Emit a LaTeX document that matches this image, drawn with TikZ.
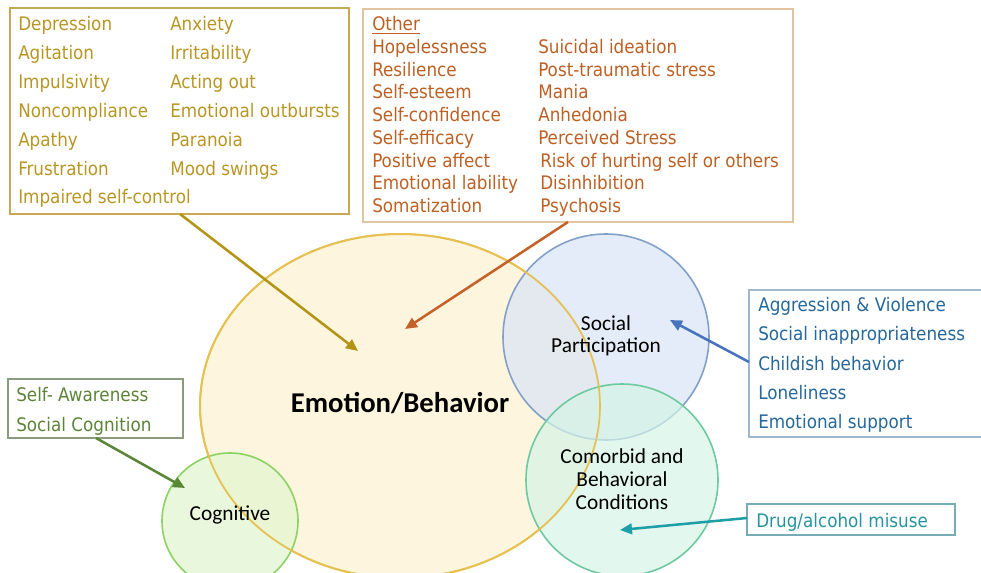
\documentclass[tikz,border=0pt]{standalone}
\usepackage{fontspec}
\setmainfont{DejaVu Sans Condensed}
\newfontfamily\calfont{Carlito}
\usetikzlibrary{arrows.meta}
\definecolor{olivetxt}{RGB}{184,150,36}
\definecolor{oliveline}{RGB}{196,170,80}
\definecolor{olivearrow}{RGB}{180,148,20}
\definecolor{orangetxt}{RGB}{188,96,36}
\definecolor{orangeline}{RGB}{226,196,160}
\definecolor{orangearrow}{RGB}{196,98,40}
\definecolor{bluetxt}{RGB}{38,104,154}
\definecolor{blueline}{RGB}{160,184,206}
\definecolor{bluearrow}{RGB}{70,114,190}
\definecolor{greentxt}{RGB}{92,132,56}
\definecolor{greenline}{RGB}{140,154,128}
\definecolor{greenarrow}{RGB}{90,134,56}
\definecolor{tealtxt}{RGB}{38,148,160}
\definecolor{tealline}{RGB}{120,172,180}
\definecolor{tealarrow}{RGB}{30,158,166}
\definecolor{emofill}{RGB}{254,245,222}
\definecolor{emoline}{RGB}{230,192,80}
\definecolor{socfill}{RGB}{218,230,246}
\definecolor{socline}{RGB}{130,160,200}
\definecolor{comfill}{RGB}{214,244,230}
\definecolor{comline}{RGB}{110,200,160}
\definecolor{cogfill}{RGB}{226,246,208}
\definecolor{cogline}{RGB}{140,210,100}
\tikzset{
  lst/.style={anchor=base west, inner sep=0pt, font=\fontsize{14}{16}\selectfont},
  boxline/.style={line width=0.9pt},
  arr/.style={line width=1.9pt, -{Triangle[length=9pt,width=8pt]}},
  lbl/.style={inner sep=0pt, font=\calfont\fontsize{16}{18}\selectfont, text=black},
}
\begin{document}
\begin{tikzpicture}[x=0.75pt,y=-0.75pt]
\useasboundingbox (0,0) rectangle (981,573);
\clip (0,0) rectangle (981,573);
% circles
\draw[fill=emofill, draw=emoline, line width=1.5pt] (400,406) ellipse [x radius=200, y radius=172];
\draw[fill=socfill, fill opacity=0.75, draw=socline, line width=1.2pt] (606,337) circle [radius=103];
\draw[fill=comfill, fill opacity=0.7, draw=comline, line width=1.2pt] (622,480) circle [radius=96];
\draw[fill=cogfill, fill opacity=0.75, draw=cogline, line width=1.2pt] (230,521) circle [radius=68];
\draw[emoline, line width=1.2pt] (400,406) ellipse [x radius=200, y radius=172];
% circle labels
\node[lbl, font=\calfont\bfseries\fontsize{21.5}{24}\selectfont, anchor=base] (emo) at (400,412) {Emotion/Behavior};
\node[lbl, anchor=base] (soc1) at (606,330) {Social};
\node[lbl, anchor=base] (soc2) at (606,353) {Participation};
\node[lbl, anchor=base] (com1) at (622,463) {Comorbid and};
\node[lbl, anchor=base] (com2) at (622,486) {Behavioral};
\node[lbl, anchor=base] (com3) at (622,509) {Conditions};
\node[lbl, anchor=base] (cog) at (230,520) {Cognitive};
% top-left box
\draw[oliveline, boxline] (10,8) rectangle (349,214);
\coordinate (tlbox) at (180,214);
\begin{scope}[every node/.style={lst, text=olivetxt}]
\node (a1) at (18,31) {Depression};
\node (a2) at (18,60) {Agitation};
\node (a3) at (18,89) {Impulsivity};
\node (a4) at (18,118) {Noncompliance};
\node (a5) at (18,147) {Apathy};
\node (a6) at (18,176) {Frustration};
\node (a7) at (18,204) {Impaired self-control};
\node (b1) at (170,31) {Anxiety};
\node (b2) at (170,60) {Irritability};
\node (b3) at (170,89) {Acting out};
\node (b4) at (170,118) {Emotional outbursts};
\node (b5) at (170,147) {Paranoia};
\node (b6) at (170,176) {Mood swings};
\end{scope}
% top-right box
\draw[orangeline, boxline] (363,9) rectangle (793,222);
\coordinate (trbox) at (568,222);
\begin{scope}[every node/.style={lst, text=orangetxt}]
\node (oth) at (372,31) {\underline{Other}};
\node (c1) at (372,54) {Hopelessness};
\node (c2) at (372,77) {Resilience};
\node (c3) at (372,99) {Self-esteem};
\node (c4) at (372,122) {Self-confidence};
\node (c5) at (372,145) {Self-efficacy};
\node (c6) at (372,168) {Positive affect};
\node (c7) at (372,190) {Emotional lability};
\node (c8) at (372,213) {Somatization};
\node (d1) at (538,54) {Suicidal ideation};
\node (d2) at (538,77) {Post-traumatic stress};
\node (d3) at (538,99) {Mania};
\node (d4) at (538,122) {Anhedonia};
\node (d5) at (538,145) {Perceived Stress};
\node (d6) at (540,168) {Risk of hurting self or others};
\node (d7) at (540,190) {Disinhibition};
\node (d8) at (540,213) {Psychosis};
\end{scope}
% right box
\draw[blueline, boxline] (990,290) -- (749,290) -- (749,437) -- (990,437);
\coordinate (rbox) at (749,362);
\begin{scope}[every node/.style={lst, text=bluetxt}]
\node (e1) at (758,312) {Aggression \& Violence};
\node (e2) at (758,341) {Social inappropriateness};
\node (e3) at (758,370) {Childish behavior};
\node (e4) at (758,399) {Loneliness};
\node (e5) at (758,428) {Emotional support};
\end{scope}
% left box
\draw[greenline, boxline] (8,379) rectangle (183,438);
\coordinate (lbox) at (96,438);
\node[lst, text=greentxt] (f1) at (16,402) {Self- Awareness};
\node[lst, text=greentxt] (f2) at (16,431) {Social Cognition};
% drug box
\draw[tealline, boxline] (747,504) rectangle (955,535);
\coordinate (dbox) at (747,518);
\node[lst, text=tealtxt] (g1) at (756,527) {Drug/alcohol misuse};
% arrow targets
\coordinate (t1) at (358,351);
\coordinate (t2) at (405,329);
\coordinate (t3) at (670,320);
\coordinate (t4) at (185,488);
\coordinate (t5) at (620,530);
\draw[arr, olivearrow] (tlbox) -- (t1);
\draw[arr, orangearrow] (trbox) -- (t2);
\draw[arr, bluearrow] (rbox) -- (t3);
\draw[arr, greenarrow] (lbox) -- (t4);
\draw[arr, tealarrow] (dbox) -- (t5);
\end{tikzpicture}
\end{document}
